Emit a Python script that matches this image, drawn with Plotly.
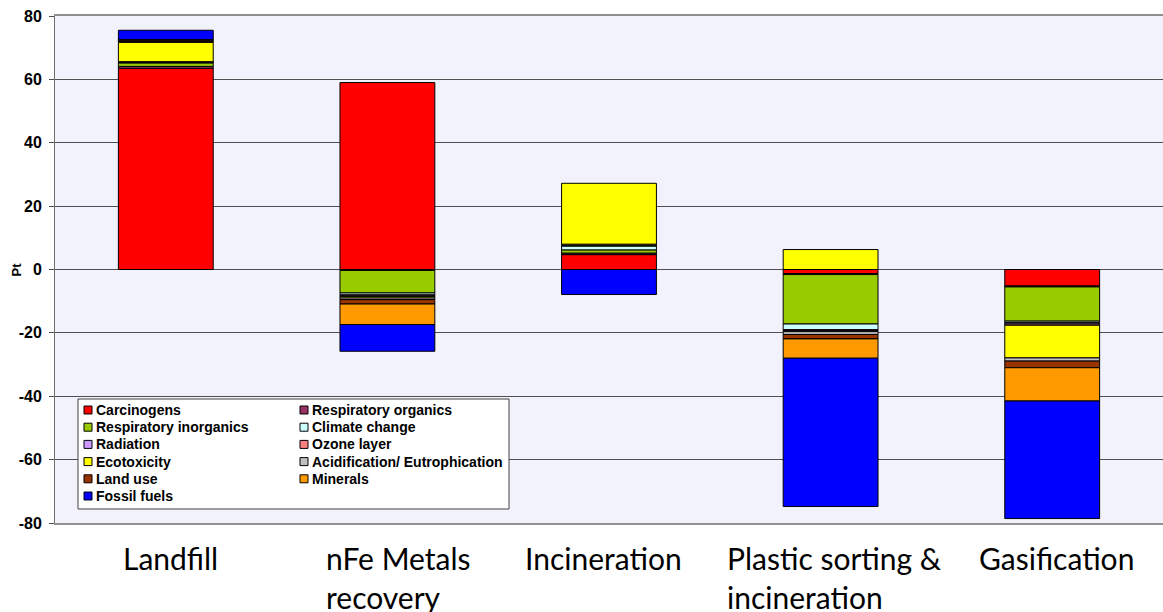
import plotly.graph_objects as go

# ---- data -------------------------------------------------------------
categories = ["Landfill", "nFe Metals recovery", "Incineration",
              "Plastic sorting & incineration", "Gasification"]
category_labels = ["Landfill", "nFe Metals<br>recovery", "Incineration",
                   "Plastic sorting &<br>incineration", "Gasification"]

series_names = ["Carcinogens", "Respiratory organics", "Respiratory inorganics",
                "Climate change", "Radiation", "Ozone layer", "Ecotoxicity",
                "Acidification/ Eutrophication", "Land use", "Minerals",
                "Fossil fuels"]

carcinogens = [63.5, 59.0, 4.7, -1.3, -5.2]
resp_organics = [0.6, -0.3, 0.5, -0.3, -0.3]
resp_inorganics = [1.1, -7.1, 1.0, -15.6, -10.8]
climate_change = [0.3, -0.6, 1.2, -1.8, -0.5]
radiation = [0.05, -0.3, 0.3, -0.3, -0.4]
ozone_layer = [0.05, -0.2, 0.3, -0.3, -0.4]
ecotoxicity = [6.1, -0.5, 19.2, 6.3, -10.3]
acidification = [0.3, -0.5, None, -0.9, -1.0]
land_use = [0.4, -1.4, None, -1.4, -2.1]
minerals = [0.2, -6.5, None, -6.1, -10.5]
fossil_fuels = [2.9, -8.4, -7.9, -46.8, -37.1]

series_values = [carcinogens, resp_organics, resp_inorganics, climate_change,
                 radiation, ozone_layer, ecotoxicity, acidification, land_use,
                 minerals, fossil_fuels]

y_ticks = [-80, -60, -40, -20, 0, 20, 40, 60, 80]

# ---- styling ----------------------------------------------------------
colors = ["#FF0000", "#993366", "#99CC00", "#CCFFFF", "#CC99FF", "#FF8080",
          "#FFFF00", "#C0C0C0", "#993300", "#FF9900", "#0000FF"]
label_shifts = [5, 11, -6, 4, 4]

W, H = 1163, 612
L, R, T, B = 55, 0, 16, 89
PW, PH = W - L - R, H - T - B
SANS = "Liberation Sans, Arial, sans-serif"


def px_x(px):
    return (px - L) / PW


def px_y(py):
    return (H - B - py) / PH


fig = go.Figure()
for name, vals, col in zip(series_names, series_values, colors):
    fig.add_trace(go.Bar(
        x=categories, y=vals, name=name, showlegend=False,
        marker=dict(color=col, line=dict(color="#000000", width=1)),
    ))

# hand-built two-column legend box
shapes = [dict(type="rect", xref="paper", yref="paper", layer="above",
               x0=px_x(78), x1=px_x(509), y0=px_y(509), y1=px_y(399),
               fillcolor="#FFFFFF", line=dict(color="#404040", width=1))]
annotations = []
for i, (name, col) in enumerate(zip(series_names, colors)):
    row, c = divmod(i, 2)
    cy = 410 + row * 17.2
    sx = 84 if c == 0 else 300
    shapes.append(dict(type="rect", xref="paper", yref="paper", layer="above",
                       x0=px_x(sx), x1=px_x(sx + 8), y0=px_y(cy + 4), y1=px_y(cy - 4),
                       fillcolor=col, line=dict(color="#000000", width=1)))
    annotations.append(dict(xref="paper", yref="paper", x=px_x(sx + 10), y=px_y(cy),
                            xanchor="left", yanchor="middle", showarrow=False,
                            text=f"<b>{name}</b>",
                            font=dict(family=SANS, size=14, color="#000000")))

# category names under the plot
for cat, lab, dx in zip(categories, category_labels, label_shifts):
    annotations.append(dict(xref="x", yref="paper", x=cat, y=px_y(538),
                            xanchor="center", yanchor="top", align="left",
                            xshift=dx, showarrow=False, text=lab,
                            font=dict(family="Lato", size=30, color="#000000")))

# axis unit label
annotations.append(dict(xref="paper", yref="y", x=px_x(16), y=0,
                        xanchor="center", yanchor="middle", textangle=-90,
                        showarrow=False, text="<b>Pt</b>",
                        font=dict(family=SANS, size=13, color="#000000")))

fig.update_layout(
    width=W, height=H,
    margin=dict(l=L, r=R, t=T, b=B, autoexpand=False),
    paper_bgcolor="#FFFFFF",
    plot_bgcolor="#F2F2FD",
    barmode="relative",
    bargap=0.572,
    shapes=shapes,
    annotations=annotations,
    font=dict(family=SANS, color="#000000"),
)
fig.update_xaxes(
    showticklabels=False, showgrid=False, ticks="",
    showline=True, mirror=True, linecolor="#909090", linewidth=2,
)
fig.update_yaxes(
    range=[-80, 80], tickvals=y_ticks, ticktext=[f"<b>{v}</b>" for v in y_ticks],
    showgrid=True, gridcolor="#505050", gridwidth=1,
    zeroline=True, zerolinecolor="#505050", zerolinewidth=1,
    showline=True, linecolor="#707070", linewidth=1,
    ticks="outside", ticklen=5, tickcolor="#505050",
    tickfont=dict(family=SANS, size=16, color="#000000"),
    ticklabelstandoff=4,
)

fig.write_html("out.html")
